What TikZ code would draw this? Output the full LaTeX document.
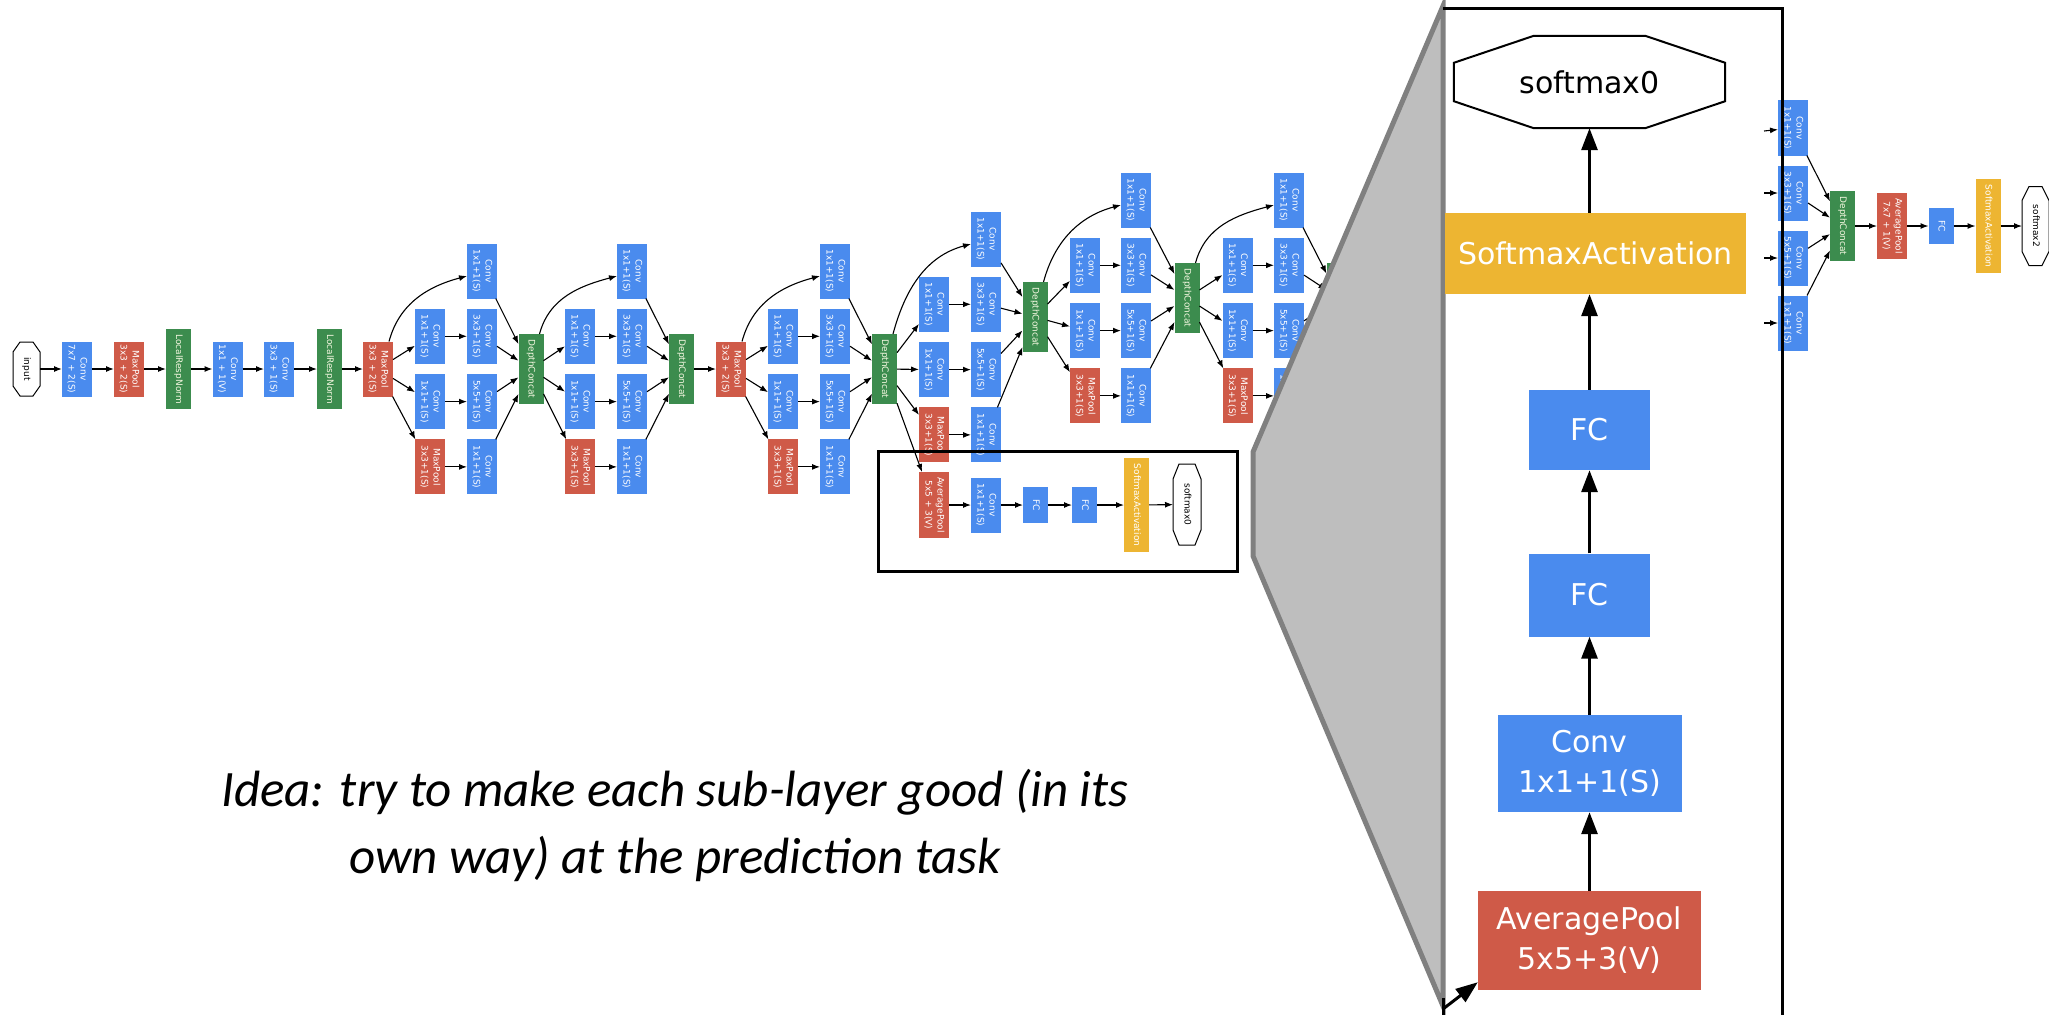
\documentclass[tikz,border=0pt]{standalone}
\usepackage{fontspec}
\setmainfont{DejaVu Sans}
\newfontfamily\carl{Carlito}
\usepackage{graphicx}
\usetikzlibrary{arrows.meta}
\definecolor{cblue}{HTML}{4A8BEE}
\definecolor{cred}{HTML}{CF5A48}
\definecolor{cgreen}{HTML}{3C8C4E}
\definecolor{cyel}{HTML}{EDB532}
\definecolor{trapfill}{HTML}{BEBEBE}
\definecolor{trapline}{HTML}{808080}
\definecolor{ltxt}{HTML}{F4F7E0}
\newcommand\rt[1]{\rotatebox{-90}{\begin{tabular}{@{}c@{}}#1\end{tabular}}}
\newcommand\octag[4][]{\draw[#1] ([xshift=#3]#2.north west) -- ([xshift=-#3]#2.north east) -- ([yshift=-#4]#2.north east) -- ([yshift=#4]#2.south east) -- ([xshift=-#3]#2.south east) -- ([xshift=#3]#2.south west) -- ([yshift=#4]#2.south west) -- ([yshift=-#4]#2.north west) -- cycle;}
\newcommand\incep[7]{%
 \node[cv] (#1a) at (#4,{-(#7)}) {\rt{Conv\\1x1+1(S)}};
 \node[cv] (#1b1) at (#3,{-(#7+65.3)}) {\rt{Conv\\1x1+1(S)}};
 \node[cv] (#1b2) at (#4,{-(#7+65.3)}) {\rt{Conv\\3x3+1(S)}};
 \node[cv] (#1c1) at (#3,{-(#7+130.6)}) {\rt{Conv\\1x1+1(S)}};
 \node[cv] (#1c2) at (#4,{-(#7+130.6)}) {\rt{Conv\\5x5+1(S)}};
 \node[mpn] (#1d1) at (#3,{-(#7+195.9)}) {\rt{MaxPool\\3x3+1(S)}};
 \node[cv] (#1d2) at (#4,{-(#7+195.9)}) {\rt{Conv\\1x1+1(S)}};
 \node[dcc] (#1dc) at (#5,{-(#6)}) {\rt{DepthConcat}};
 \draw[ar] ([xshift=-4pt]#2.north east) to[out=75,in=195] ([yshift=-5pt]#1a.west);
 \draw[ar] (#2) -- (#1b1);
 \draw[ar] (#2) -- (#1c1);
 \draw[ar] (#2) -- (#1d1);
 \draw[ar] (#1b1) -- (#1b2);
 \draw[ar] (#1c1) -- (#1c2);
 \draw[ar] (#1d1) -- (#1d2);
 \draw[ar] (#1a) -- (#1dc);
 \draw[ar] (#1b2) -- (#1dc);
 \draw[ar] (#1c2) -- (#1dc);
 \draw[ar] (#1d2) -- (#1dc);
}
\begin{document}
\begin{tikzpicture}[x=1pt,y=1pt,
 sz/.style 2 args={minimum width=#1, minimum height=#2},
 nd/.style={rectangle, inner sep=0pt, outer sep=0pt, text=white, font=\fontsize{9}{12}\selectfont},
 cv/.style={nd, fill=cblue, sz={30pt}{55pt}},
 mpn/.style={nd, fill=cred, sz={30pt}{55pt}},
 dcc/.style={nd, fill=cgreen, text=ltxt, sz={25pt}{70pt}},
 lrn/.style={nd, fill=cgreen, text=ltxt, sz={25pt}{80pt}},
 apn/.style={nd, fill=cred, sz={30pt}{66pt}},
 fcn/.style={nd, fill=cblue, sz={25pt}{36pt}},
 san/.style={nd, fill=cyel, sz={25pt}{94pt}},
 oct/.style={nd, text=black},
 ar/.style={-{Latex[length=8pt,width=6pt]}, line width=1.1pt},
 bn/.style={rectangle, inner sep=0pt, text=white, font=\fontsize{30}{40}\selectfont, align=center},
 bar/.style={-{Triangle[length=22pt,width=16pt]}, line width=3pt},
 idea/.style={font=\carl\itshape\fontsize{51}{67}\selectfont, anchor=base, inner sep=0pt}
]
\useasboundingbox (0,0) rectangle (2049,-1014);
\fill[white] (0,0) rectangle (2049,-1014);
% stem
\node[oct, sz={27pt}{54pt}] (inp) at (26.5,-369) {\rt{input}};
\octag[line width=1pt]{inp}{7pt}{10pt}
\node[cv] (c1) at (77,-369) {\rt{Conv\\7x7 + 2(S)}};
\node[mpn] (mp1) at (129,-369) {\rt{MaxPool\\3x3 + 2(S)}};
\node[lrn] (lrn1) at (178.5,-369) {\rt{LocalRespNorm}};
\node[cv] (c2) at (227.5,-369) {\rt{Conv\\1x1 + 1(V)}};
\node[cv] (c3) at (279,-369) {\rt{Conv\\3x3 + 1(S)}};
\node[lrn] (lrn2) at (329.5,-369) {\rt{LocalRespNorm}};
\node[mpn] (mp2) at (378,-369) {\rt{MaxPool\\3x3 + 2(S)}};
\draw[ar] (inp) -- (c1);
\draw[ar] (c1) -- (mp1);
\draw[ar] (mp1) -- (lrn1);
\draw[ar] (lrn1) -- (c2);
\draw[ar] (c2) -- (c3);
\draw[ar] (c3) -- (lrn2);
\draw[ar] (lrn2) -- (mp2);
% inception blocks
\incep{A}{mp2}{430}{482}{531}{369}{271}
\incep{B}{Adc}{580}{632}{681.5}{369}{271}
\node[mpn] (mp3) at (731,-369) {\rt{MaxPool\\3x3 + 2(S)}};
\draw[ar] (Bdc) -- (mp3);
\incep{C}{mp3}{783}{835}{884.5}{369}{271}
\incep{D}{Cdc}{934}{986}{1035}{317}{239}
\incep{E}{Ddc}{1085}{1136}{1187}{298}{200}
\incep{F}{Edc}{1237.5}{1289}{1339}{298}{200}
% auxiliary classifier
\node[apn] (ap0) at (934,-505) {\rt{AveragePool\\5x5 + 3(V)}};
\node[cv] (ac0) at (986,-505) {\rt{Conv\\1x1+1(S)}};
\node[fcn] (fa0) at (1035.5,-505) {\rt{FC}};
\node[fcn] (fb0) at (1084.5,-505) {\rt{FC}};
\node[san] (sa0) at (1136.5,-505) {\rt{SoftmaxActivation}};
\node[oct, sz={28pt}{81pt}] (sm0) at (1187,-504.5) {\rt{softmax0}};
\octag[line width=1pt]{sm0}{6pt}{15pt}
\draw[ar] (Cdc) -- (ap0);
\draw[ar] (ap0) -- (ac0);
\draw[ar] (ac0) -- (fa0);
\draw[ar] (fa0) -- (fb0);
\draw[ar] (fb0) -- (sa0);
\draw[ar] (sa0) -- (sm0);
\node[draw, line width=3pt, inner sep=0pt, sz={359pt}{120pt}] (auxbox) at (1057.5,-511) {};
% zoom panel
\fill[white] (1443,-9) rectangle (1782,-1014);
\filldraw[fill=trapfill, draw=trapline, line width=5pt] (1443,-6) -- (1253,-452) -- (1253,-556) -- (1443,-1006) -- cycle;
\draw[line width=3pt] (1443,-998) -- (1443,-1016);
\node[bn, fill=cred, sz={223pt}{99pt}] (bap) at (1589.5,-940.5) {AveragePool\\5x5+3(V)};
\node[bn, fill=cblue, sz={184pt}{97pt}] (bcv) at (1589.5,-763.5) {Conv\\1x1+1(S)};
\node[bn, fill=cblue, sz={121pt}{83pt}] (bfa) at (1589.5,-595) {FC};
\node[bn, fill=cblue, sz={121pt}{80pt}] (bfb) at (1589.5,-430) {FC};
\node[bn, fill=cyel, sz={301pt}{81pt}] (bsa) at (1595.5,-253.5) {SoftmaxActivation};
\node[bn, text=black, sz={271pt}{92pt}] (bsm) at (1589.5,-82) {softmax0};
\octag[line width=2pt]{bsm}{80pt}{27pt}
\draw[bar] (bap) -- (bcv);
\draw[bar] (bcv) -- (bfa);
\draw[bar] (bfa) -- (bfb);
\draw[bar] (bfb.north) -- (bfb.north |- bsa.south);
\draw[bar] (bsa.north -| bsm.south) -- (bsm.south);
\coordinate (pin) at (1443,-1009);
\draw[bar] (pin) -- ([yshift=8pt]bap.south west);
% tail of the network
\node[cv] (t1) at (1793,-128) {\rt{Conv\\1x1+1(S)}};
\node[cv] (t2) at (1793,-193) {\rt{Conv\\3x3+1(S)}};
\node[cv] (t3) at (1793,-258) {\rt{Conv\\5x5+1(S)}};
\node[cv] (t4) at (1793,-323) {\rt{Conv\\1x1+1(S)}};
\coordinate (s1) at (1764,-131);
\coordinate (s2) at (1764,-193);
\coordinate (s3) at (1764,-258);
\coordinate (s4) at (1764,-323);
\draw[ar] (s1) -- (t1);
\draw[ar] (s2) -- (t2);
\draw[ar] (s3) -- (t3);
\draw[ar] (s4) -- (t4);
\node[dcc] (tdc) at (1842.5,-226) {\rt{DepthConcat}};
\node[apn] (tap) at (1892,-226) {\rt{AveragePool\\7x7 + 1(V)}};
\node[fcn] (tfc) at (1941,-226) {\rt{FC}};
\node[san] (tsa) at (1988,-226) {\rt{SoftmaxActivation}};
\node[oct, sz={27pt}{79pt}] (tsm) at (2035.5,-226) {\rt{softmax2}};
\octag[line width=1pt]{tsm}{7pt}{14pt}
\draw[ar] (t1) -- (tdc);
\draw[ar] (t2) -- (tdc);
\draw[ar] (t3) -- (tdc);
\draw[ar] (t4) -- (tdc);
\draw[ar] (tdc) -- (tap);
\draw[ar] (tap) -- (tfc);
\draw[ar] (tfc) -- (tsa);
\draw[ar] (tsa) -- (tsm);
\draw[line width=3pt] (1443,-9) -- (1782,-9) -- (1782,-1016);
% caption
\node[idea] (idea1) at (675,-806) {Idea: try to make each sub-layer good (in its};
\node[idea] (idea2) at (675,-873) {own way) at the prediction task};
\end{tikzpicture}
\end{document}
